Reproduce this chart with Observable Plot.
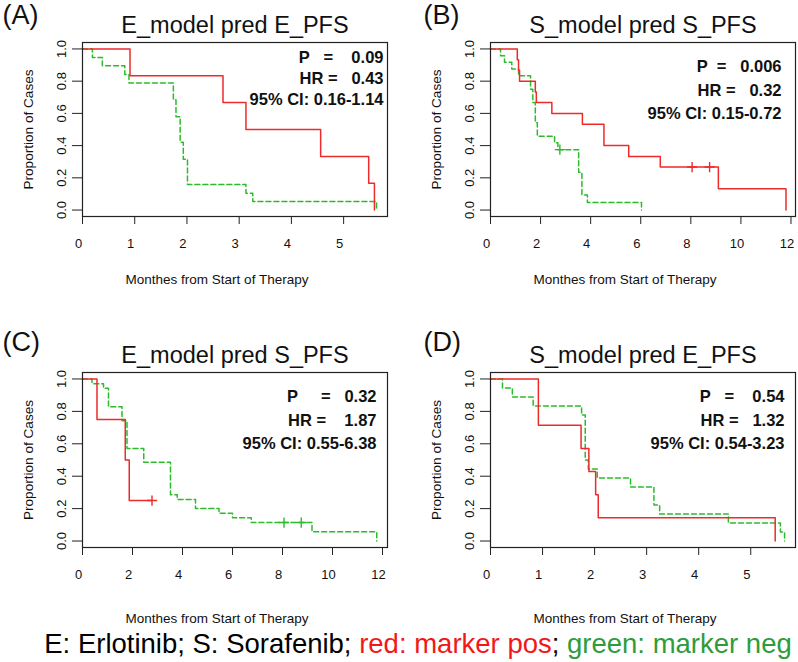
<!DOCTYPE html>
<html>
<head>
<meta charset="utf-8">
<script src="https://cdn.jsdelivr.net/npm/d3@7"></script>
<script src="https://cdn.jsdelivr.net/npm/@observablehq/plot@0.6"></script>
<style>
  body { margin: 0; background: #fff; }
  #root { position: relative; width: 798px; height: 662px; overflow: hidden; background: #fff;
          font-family: "Liberation Sans", Arial, Helvetica, sans-serif; }
  .panel { position: absolute; }
  #caption { position: absolute; top: 630px; left: 418px; transform: translateX(-50%);
             white-space: nowrap; font-size: 27.5px; line-height: 27px; color: #000; }
</style>
</head>
<body>
<div id="root"></div>
<script>
// ---------------- data ----------------
const panelTags = ["(A)", "(B)", "(C)", "(D)"];
const panelTitles = ["E_model pred E_PFS", "S_model pred S_PFS", "E_model pred S_PFS", "S_model pred E_PFS"];
const pLines = ["P   =    0.09", "P  =   0.006", "P     =   0.32", "P   =    0.54"];
const hrLines = ["HR =   0.43", "HR =   0.32", "HR =    1.87", "HR =   1.32"];
const ciLines = ["95% CI: 0.16-1.14", "95% CI: 0.15-0.72", "95% CI: 0.55-6.38", "95% CI: 0.54-3.23"];
const xAxisTitle = "Monthes from Start of Therapy";
const yAxisTitle = "Proportion of Cases";
const xTicksShort = [0, 1, 2, 3, 4, 5];
const xTicksLong = [0, 2, 4, 6, 8, 10, 12];
const yTicks = [0, 0.2, 0.4, 0.6, 0.8, 1.0];

// (A) E_model pred E_PFS
const aPosTime = [0, 0.91, 2.69, 3.13, 4.56, 5.48, 5.59];
const aPosSurv = [1, 0.833, 0.667, 0.5, 0.333, 0.167, 0];
const aNegTime = [0, 0.19, 0.38, 0.81, 0.89, 1.74, 1.79, 1.87, 1.93, 2.01, 3.13, 3.26, 5.63];
const aNegSurv = [1, 0.947, 0.895, 0.842, 0.789, 0.684, 0.579, 0.421, 0.316, 0.158, 0.105, 0.053, 0];
const aPosCensorTime = [], aPosCensorSurv = [];
const aNegCensorTime = [], aNegCensorSurv = [];

// (B) S_model pred S_PFS
const bPosTime = [0, 1.07, 1.12, 1.16, 1.79, 1.83, 2.45, 3.67, 4.53, 5.52, 6.78, 9.1, 11.8];
const bPosSurv = [1, 0.933, 0.867, 0.8, 0.733, 0.667, 0.6, 0.533, 0.4, 0.333, 0.267, 0.133, 0];
const bNegTime = [0, 0.40, 0.56, 0.85, 1.12, 1.6, 1.69, 1.79, 1.87, 2.56, 2.69, 3.52, 3.65, 3.87, 6.03];
const bNegSurv = [1, 0.958, 0.917, 0.875, 0.833, 0.75, 0.667, 0.542, 0.458, 0.417, 0.375, 0.234, 0.094, 0.047, 0];
const bPosCensorTime = [8.05, 8.75], bPosCensorSurv = [0.267, 0.267];
const bNegCensorTime = [2.77], bNegCensorSurv = [0.375];

// (C) E_model pred S_PFS
const cPosTime = [0, 0.58, 1.71, 1.87, 2.78];
const cPosSurv = [1, 0.75, 0.5, 0.25, 0.25];
const cNegTime = [0, 0.38, 0.84, 1.04, 1.58, 1.78, 2.45, 3.52, 3.79, 4.52, 5.46, 6.0, 6.75, 9.18, 11.77];
const cNegSurv = [1, 0.971, 0.943, 0.829, 0.743, 0.571, 0.486, 0.286, 0.257, 0.2, 0.171, 0.143, 0.114, 0.057, 0];
const cPosCensorTime = [2.78], cPosCensorSurv = [0.25];
const cNegCensorTime = [8.06, 8.75], cNegCensorSurv = [0.114, 0.114];

// (D) S_model pred E_PFS
const dPosTime = [0, 0.92, 1.74, 1.89, 2.02, 2.07, 5.47];
const dPosSurv = [1, 0.714, 0.571, 0.429, 0.286, 0.143, 0];
const dNegTime = [0, 0.23, 0.42, 0.82, 1.75, 1.82, 1.88, 2.05, 2.69, 3.14, 3.25, 4.57, 5.57, 5.65];
const dNegSurv = [1, 0.944, 0.889, 0.833, 0.778, 0.5, 0.444, 0.389, 0.333, 0.222, 0.167, 0.111, 0.056, 0];
const dPosCensorTime = [], dPosCensorSurv = [];
const dNegCensorTime = [], dNegCensorSurv = [];

// ---------------- styling / layout ----------------
const FONT = '"Liberation Sans", Arial, Helvetica, sans-serif';
const RED = "#ee2a2a";
const GREEN = "#2dbb2d";
const zip = (t, s) => t.map((v, i) => ({t: v, s: s[i]}));
const nb = (s) => s.replace(/ /g, "\u00a0");

const panels = [
  {left: 0, top: 0, height: 290, ml: 82, mr: 12, mb: 74, xmax: 5.84, ticks: xTicksShort,
   pos: zip(aPosTime, aPosSurv), neg: zip(aNegTime, aNegSurv),
   posC: zip(aPosCensorTime, aPosCensorSurv), negC: zip(aNegCensorTime, aNegCensorSurv),
   tagDx: -80, tagDy: -19, annDx: -4, annDy: 5.3, annLH: 1.28, xlabDy: 67.5},
  {left: 399, top: 0, height: 290, ml: 91, mr: 3, mb: 74, xmax: 12.18, ticks: xTicksLong,
   pos: zip(bPosTime, bPosSurv), neg: zip(bNegTime, bNegSurv),
   posC: zip(bPosCensorTime, bPosCensorSurv), negC: zip(bNegCensorTime, bNegCensorSurv),
   tagDx: -67, tagDy: -19, annDx: -14, annDy: 13.3, annLH: 1.42, xlabDy: 67.5},
  {left: 0, top: 330, height: 300, ml: 82, mr: 12, mb: 83, xmax: 12.2, ticks: xTicksLong,
   pos: zip(cPosTime, cPosSurv), neg: zip(cNegTime, cNegSurv),
   posC: zip(cPosCensorTime, cPosCensorSurv), negC: zip(cNegCensorTime, cNegCensorSurv),
   tagDx: -80, tagDy: -22, annDx: -11, annDy: 13.3, annLH: 1.42, xlabDy: 75},
  {left: 399, top: 330, height: 300, ml: 91, mr: 3, mb: 83, xmax: 5.86, ticks: xTicksShort,
   pos: zip(dPosTime, dPosSurv), neg: zip(dNegTime, dNegSurv),
   posC: zip(dPosCensorTime, dPosCensorSurv), negC: zip(dNegCensorTime, dNegCensorSurv),
   tagDx: -67, tagDy: -22, annDx: -11, annDy: 13.3, annLH: 1.42, xlabDy: 75}
];

const root = document.getElementById("root");

panels.forEach((p, k) => {
  const ann = [pLines[k], hrLines[k], ciLines[k]].map(nb).join("\n");
  const chart = Plot.plot({
    width: 399,
    height: p.height,
    marginLeft: p.ml,
    marginRight: p.mr,
    marginTop: 42,
    marginBottom: p.mb,
    style: {fontFamily: FONT, fontSize: "13px", color: "#111", background: "transparent", overflow: "visible"},
    x: {domain: [0, p.xmax]},
    y: {domain: [-0.04, 1.04]},
    marks: [
      Plot.axisX({ticks: p.ticks, tickSize: 8, tickFormat: () => "", label: null, stroke: "#222"}),
      Plot.axisX({ticks: p.ticks, tickSize: 0, tickPadding: 22, dx: -4, tickFormat: (d) => String(d), label: null, fontSize: 13}),
      Plot.axisY({ticks: yTicks, tickSize: 10, tickPadding: 7, tickRotate: -90, tickFormat: (d) => d.toFixed(1), label: null, fontSize: 13, stroke: "#222"}),
      Plot.line(p.neg, {x: "t", y: "s", curve: "step-after", stroke: GREEN, strokeWidth: 1.5, strokeDasharray: "5,3"}),
      Plot.line(p.pos, {x: "t", y: "s", curve: "step-after", stroke: RED, strokeWidth: 1.5}),
      Plot.dot(p.negC, {x: "t", y: "s", symbol: "plus", r: 3.4, stroke: GREEN, strokeWidth: 1.4}),
      Plot.dot(p.posC, {x: "t", y: "s", symbol: "plus", r: 3.4, stroke: RED, strokeWidth: 1.4}),
      Plot.frame({stroke: "#222", strokeWidth: 1.2}),
      Plot.text([panelTitles[k]], {frameAnchor: "top", dy: -9.5, lineAnchor: "bottom", textAnchor: "middle", fontSize: 23.5, fill: "#111"}),
      Plot.text([panelTags[k]], {frameAnchor: "top-left", dx: p.tagDx, dy: p.tagDy, lineAnchor: "bottom", textAnchor: "start", fontSize: 27, fill: "#111"}),
      Plot.text([ann], {frameAnchor: "top-right", dx: p.annDx, dy: p.annDy, lineAnchor: "top", textAnchor: "end", lineHeight: p.annLH, fontSize: 16.5, fontWeight: "bold", fill: "#111"}),
      Plot.text([xAxisTitle], {frameAnchor: "bottom", dx: -18, dy: p.xlabDy, lineAnchor: "bottom", textAnchor: "middle", fontSize: 13.5, fill: "#111"}),
      Plot.text([yAxisTitle], {frameAnchor: "left", dx: -54, rotate: -90, lineAnchor: "middle", textAnchor: "middle", fontSize: 13.6, fill: "#111"})
    ]
  });
  const div = document.createElement("div");
  div.className = "panel";
  div.style.left = p.left + "px";
  div.style.top = p.top + "px";
  div.appendChild(chart);
  root.appendChild(div);
});

const cap = document.createElement("div");
cap.id = "caption";
cap.innerHTML = 'E: Erlotinib; S: Sorafenib; <span style="color:#f01818">red: marker pos</span>; <span style="color:#2e9c3c">green: marker neg</span>';
root.appendChild(cap);
</script>
</body>
</html>
